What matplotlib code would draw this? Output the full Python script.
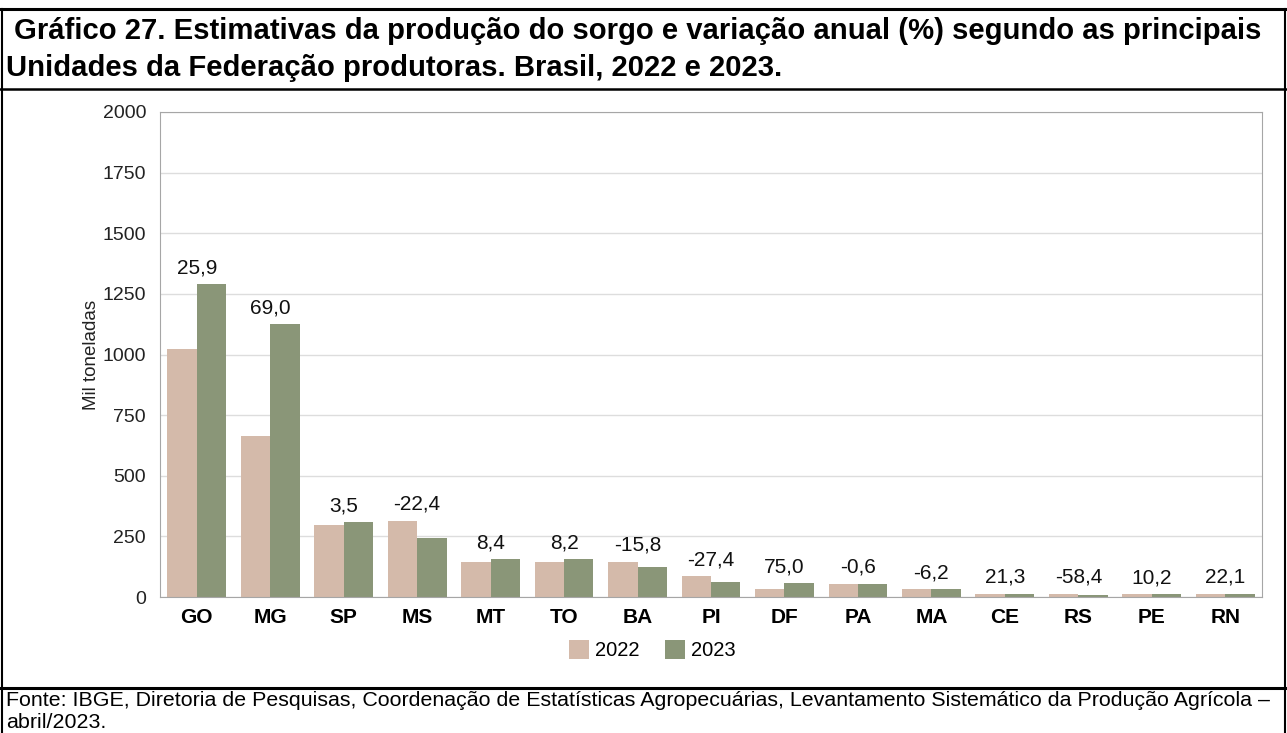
import matplotlib
matplotlib.use("Agg")
import matplotlib.pyplot as plt
import numpy as np
from matplotlib.lines import Line2D

plt.rcParams["font.family"] = ["Liberation Sans", "DejaVu Sans"]

# Dados (mil toneladas)
ufs = ["GO", "MG", "SP", "MS", "MT", "TO", "BA", "PI", "DF", "PA", "MA", "CE", "RS", "PE", "RN"]
prod_2022 = [1024, 665, 298, 314, 144, 143, 145, 85, 33, 55, 33, 12, 13, 11, 11]
prod_2023 = [1289, 1124, 308, 243, 156, 155, 122, 62, 57, 55, 31, 14, 9, 12, 13]
variacao = ["25,9", "69,0", "3,5", "-22,4", "8,4", "8,2", "-15,8", "-27,4", "75,0",
            "-0,6", "-6,2", "21,3", "-58,4", "10,2", "22,1"]
y_ticks = [0, 250, 500, 750, 1000, 1250, 1500, 1750, 2000]

cor_2022 = "#d4baaa"
cor_2023 = "#8a9678"

W, H = 1287, 733
fig = plt.figure(figsize=(W / 100, H / 100), dpi=100)
ax = fig.add_axes([160 / W, 1 - 597 / H, (1262 - 160) / W, (597 - 112) / H])

x = np.arange(len(ufs))
w = 0.4
ax.bar(x - w / 2, prod_2022, w, color=cor_2022, label="2022", zorder=2)
ax.bar(x + w / 2, prod_2023, w, color=cor_2023, label="2023", zorder=2)

for i, txt in enumerate(variacao):
    top = max(prod_2022[i], prod_2023[i])
    ax.annotate(txt, (x[i], top), xytext=(0, 5), textcoords="offset points",
                ha="center", va="bottom", fontsize=15, color="#111111")

ax.set_xlim(-0.5, len(ufs) - 0.5)
ax.set_ylim(0, 2000)
ax.set_yticks(y_ticks)
ax.set_yticklabels([str(v) for v in y_ticks], fontsize=14, color="#222222")
ax.set_xticks(x)
ax.set_xticklabels(ufs, fontsize=15, fontweight="bold")
ax.tick_params(axis="both", length=0, pad=8)
ax.tick_params(axis="y", pad=10)
ax.grid(axis="y", color="#dddddd", linewidth=1, zorder=0)
for s in ax.spines.values():
    s.set_color("#a6a6a6")
ax.set_ylabel("Mil toneladas", fontsize=13.5, color="#222222", labelpad=2)

fig.legend(loc="center", bbox_to_anchor=(652 / W, 1 - 650 / H), ncol=2, frameon=False,
           fontsize=14.5, handlelength=1.0, handleheight=1.1, handletextpad=0.3,
           columnspacing=1.25)

# Título e fonte
fig.text(14 / W, 1 - 31 / H, "Gráfico 27. Estimativas da produção do sorgo e variação anual (%) segundo as principais",
         fontsize=21.1, fontweight="bold", va="center", ha="left")
fig.text(6 / W, 1 - 68 / H, "Unidades da Federação produtoras. Brasil, 2022 e 2023.",
         fontsize=21.1, fontweight="bold", va="center", ha="left")
fig.text(6 / W, 1 - 701 / H,
         "Fonte: IBGE, Diretoria de Pesquisas, Coordenação de Estatísticas Agropecuárias, Levantamento Sistemático da Produção Agrícola –",
         fontsize=15.4, va="center", ha="left")
fig.text(6 / W, 1 - 723 / H, "abril/2023.", fontsize=15.4, va="center", ha="left")

# Molduras
def hline(y, lw):
    fig.add_artist(Line2D([0, 1], [1 - y / H, 1 - y / H], color="black", linewidth=lw))

def vline(xp, y0, y1, lw):
    fig.add_artist(Line2D([xp / W, xp / W], [1 - y0 / H, 1 - y1 / H], color="black", linewidth=lw))

hline(9, 2.2)
hline(89, 1.8)
hline(688, 2.2)
vline(2, 9, 733, 1.5)
vline(1285, 9, 733, 1.5)

fig.savefig("out.png", dpi=100)
